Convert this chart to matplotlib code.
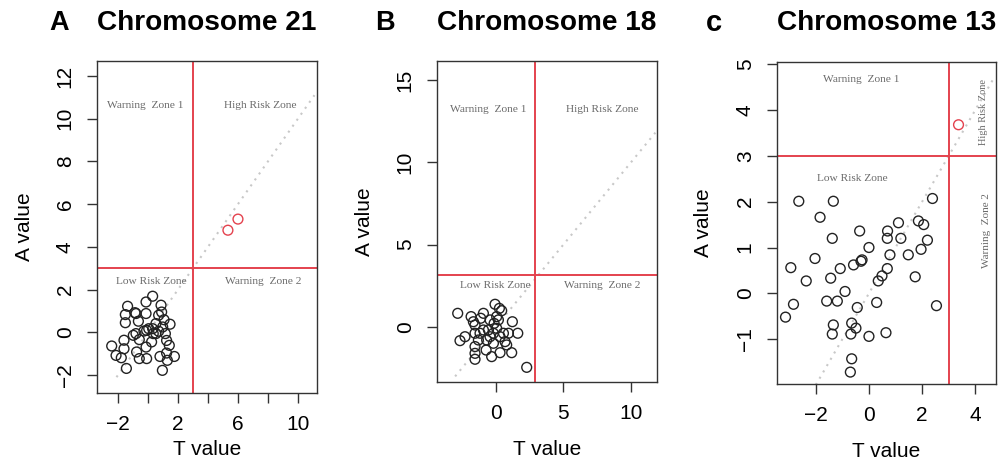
import matplotlib
matplotlib.use("Agg")
import matplotlib.pyplot as plt
import numpy as np

plt.rcParams['font.family'] = ['Liberation Sans', 'DejaVu Sans']

# ---------------- data ----------------
# Panel A: Chromosome 21
tA = [-2.42, -2.13, -1.78, -1.60, -1.60, -1.44, -1.51, -1.51, -1.36, -0.87, -0.80, -0.64,
      -0.98, -0.80, -0.76, -0.58, -0.09, -0.13, -0.13, 0.31, -0.13, 0.24, 0.31, -0.09,
      -0.27, 0.35, 0.53, 0.71, 0.87, 0.91, 1.07, 0.98, 0.71, 1.16, 1.24, 1.47, 1.42,
      1.24, 1.29, 0.80, 1.76, 0.96, 0.53, 0.05, -0.58]
aA = [-0.64, -1.08, -1.19, -0.77, -0.37, -1.69, 0.45, 0.83, 1.22, 0.92, 0.88, 0.52,
      -0.14, -0.06, -0.92, -1.23, -1.23, 0.88, 1.42, 1.69, -0.69, -0.45, 0.17, 0.09,
      0.06, -0.06, 0.41, 0.80, 1.27, 0.95, 0.59, 0.25, 0.05, -0.06, -0.38, 0.38, -0.61,
      -0.97, -1.31, -1.13, -1.13, -1.78, -0.06, 0.17, -0.34]
tA_hi = [5.33, 6.00]
aA_hi = [4.78, 5.30]

# Panel B: Chromosome 18
tB = [-2.81, -2.64, -2.27, -1.82, -1.65, -1.53, -1.53, -1.53, -1.53, -1.53, -1.28, -1.11,
      -0.91, -0.71, -0.67, -0.54, -0.42, -0.30, -0.17, -0.17, -0.05, -0.12, 0.07, 0.20,
      0.27, 0.44, 0.32, 0.57, 0.69, 0.81, 0.94, 1.18, 1.23, 1.63, 2.29, -1.16, 0.07,
      -0.42, -0.91, 0.32]
aB = [0.83, -0.83, -0.59, 0.63, 0.32, 0.12, -0.38, -1.19, -1.60, -1.96, -0.79, 0.53,
      0.83, -1.40, -0.79, -0.18, 0.43, -1.80, -0.99, -0.38, 1.38, 0.22, -0.08, 0.43,
      1.13, 0.99, -1.56, -0.38, -0.89, -1.09, -0.38, -1.56, 0.32, -0.38, -2.45, -0.38,
      0.63, -0.59, -0.18, -0.59]

# Panel C: Chromosome 13
tC = [-3.14, -2.94, -2.84, -2.64, -2.36, -2.03, -1.84, -1.59, -1.44, -1.38, -1.34, -1.34,
      -1.38, -1.19, -1.08, -0.90, -0.68, -0.65, -0.65, -0.70, -0.58, -0.49, -0.44, -0.35,
      -0.26, -0.30, 0.00, 0.00, 0.29, 0.35, 0.49, 0.64, 0.69, 0.70, 0.69, 0.79, 1.11,
      1.20, 1.48, 1.74, 1.86, 1.96, 2.06, 2.20, 2.39, 2.54]
aC = [-0.52, 0.56, -0.24, 2.01, 0.27, 0.76, 1.66, -0.17, 0.33, 1.20, 2.01, -0.69,
      -0.89, -0.17, 0.54, 0.04, -0.89, -0.65, -1.43, -1.72, 0.62, -0.76, -0.31, 1.36,
      0.73, 0.70, -0.94, 1.00, -0.20, 0.27, 0.38, -0.86, 0.54, 1.36, 1.20, 0.84, 1.54,
      1.20, 0.84, 0.36, 1.58, 0.96, 1.50, 1.16, 2.07, -0.27]
tC_hi = [3.37]
aC_hi = [3.68]

titles = ["Chromosome 21", "Chromosome 18", "Chromosome 13"]
letters = ["A", "B", "c"]

# ---------------- figure ----------------
W, H = 999, 461
fig = plt.figure(figsize=(W / 100, H / 100), dpi=100)

def fr(l, t, r, b):
    return [l / W, 1 - b / H, (r - l) / W, (b - t) / H]

RED = "#e4424e"
BLK = "#222222"
ZONE = "#6a6a6a"
serif = ['Liberation Serif', 'DejaVu Serif']

def style(ax, xticks, xlabels, yticks, ylabels, xlim, ylim):
    ax.set_xlim(*xlim)
    ax.set_ylim(*ylim)
    ax.set_xticks(xticks)
    ax.set_xticklabels(xlabels)
    ax.set_yticks(yticks)
    ax.set_yticklabels(ylabels)
    for s in ax.spines.values():
        s.set_color("#333333")
        s.set_linewidth(1.0)
    ax.tick_params(axis='both', length=7, width=1.0, color="#333333",
                   labelsize=15, pad=9)
    for lab in ax.get_yticklabels():
        lab.set_rotation(90)
        lab.set_va('center')
        lab.set_ha('right')

def panel(rect, t, a, th, ah, vline, hline, diag, xlim, ylim, xticks, xlabels,
          yticks, ylabels, title, letter, letter_x, ylab_x, xlab_y):
    ax = fig.add_axes(rect)
    ax.plot(diag, diag, linestyle=(0, (1, 2.5)), color="#c8c8c8", lw=1.5, zorder=1)
    ax.axvline(vline, color=RED, lw=1.4, zorder=2)
    ax.axhline(hline, color=RED, lw=1.4, zorder=2)
    ax.scatter(t, a, s=50, facecolors='none', edgecolors=BLK, linewidths=1.0, zorder=3)
    if th:
        ax.scatter(th, ah, s=50, facecolors='none', edgecolors=RED, linewidths=1.0, zorder=3)
    style(ax, xticks, xlabels, yticks, ylabels, xlim, ylim)
    ax.set_xlabel("T value", fontsize=15)
    ax.set_ylabel("A value", fontsize=15)
    ax.xaxis.set_label_coords(0.5, xlab_y, transform=ax.transAxes)
    ax.yaxis.set_label_coords(ylab_x, 0.5, transform=ax.transAxes)
    bb = ax.get_position()
    fig.text(bb.x0, 1 - 23 / H, title, fontsize=20.2, fontweight='bold',
             ha='left', va='center')
    fig.text(letter_x / W, 1 - 23 / H, letter, fontsize=19.5 if letter != "c" else 21,
             fontweight='bold', ha='center', va='center')
    return ax

# Panel A
axA = panel(fr(97, 61, 317, 393), tA, aA, tA_hi, aA_hi, 3.0, 3.0, [-2.1, 11.1],
            (-3.4, 11.27), (-2.84, 12.7), [-2, 0, 2, 4, 6, 8, 10],
            ["\u22122", "", "2", "", "6", "", "10"], [-2, 0, 2, 4, 6, 8, 10, 12],
            ["\u22122", "0", "2", "4", "6", "8", "10", "12"],
            titles[0], letters[0], 59, -0.285, -0.143)
for x, y, s in [(-0.2, 10.6, "Warning  Zone 1"), (7.5, 10.6, "High Risk Zone"),
                (0.2, 2.4, "Low Risk Zone"), (7.7, 2.4, "Warning  Zone 2")]:
    axA.text(x, y, s, fontsize=8.2, color=ZONE, family=serif, ha='center', va='center')

# Panel B
axB = panel(fr(437, 61, 657, 382), tB, aB, None, None, 2.9, 3.16, [-3.0, 11.8],
            (-4.34, 11.92), (-3.34, 16.15), [0, 5, 10], ["0", "5", "10"],
            [0, 5, 10, 15], ["0", "5", "10", "15"],
            titles[1], letters[1], 385, -0.287, -0.18)
for x, y, s in [(-0.57, 13.2, "Warning  Zone 1"), (7.9, 13.2, "High Risk Zone"),
                (0.0, 2.5, "Low Risk Zone"), (7.9, 2.5, "Warning  Zone 2")]:
    axB.text(x, y, s, fontsize=8.2, color=ZONE, family=serif, ha='center', va='center')

# Panel C
axC = panel(fr(777, 62, 996, 384), tC, aC, tC_hi, aC_hi, 3.0, 3.0, [-2.0, 4.7],
            (-3.46, 4.78), (-1.98, 5.05), [-2, 0, 2, 4], ["\u22122", "0", "2", "4"],
            [-1, 0, 1, 2, 3, 4, 5], ["\u22121", "0", "1", "2", "3", "4", "5"],
            titles[2], letters[2], 714, -0.292, -0.18)
for x, y, s in [(-0.3, 4.66, "Warning  Zone 1"), (-0.63, 2.51, "Low Risk Zone")]:
    axC.text(x, y, s, fontsize=8.2, color=ZONE, family=serif, ha='center', va='center')
axC.text(4.3, 3.96, "High Risk Zone", fontsize=7.5, color=ZONE, family=serif,
         ha='center', va='center', rotation=90)
axC.text(4.43, 1.38, "Warning  Zone 2", fontsize=8, color=ZONE, family=serif,
         ha='center', va='center', rotation=90)

fig.savefig("out.png", dpi=100)
